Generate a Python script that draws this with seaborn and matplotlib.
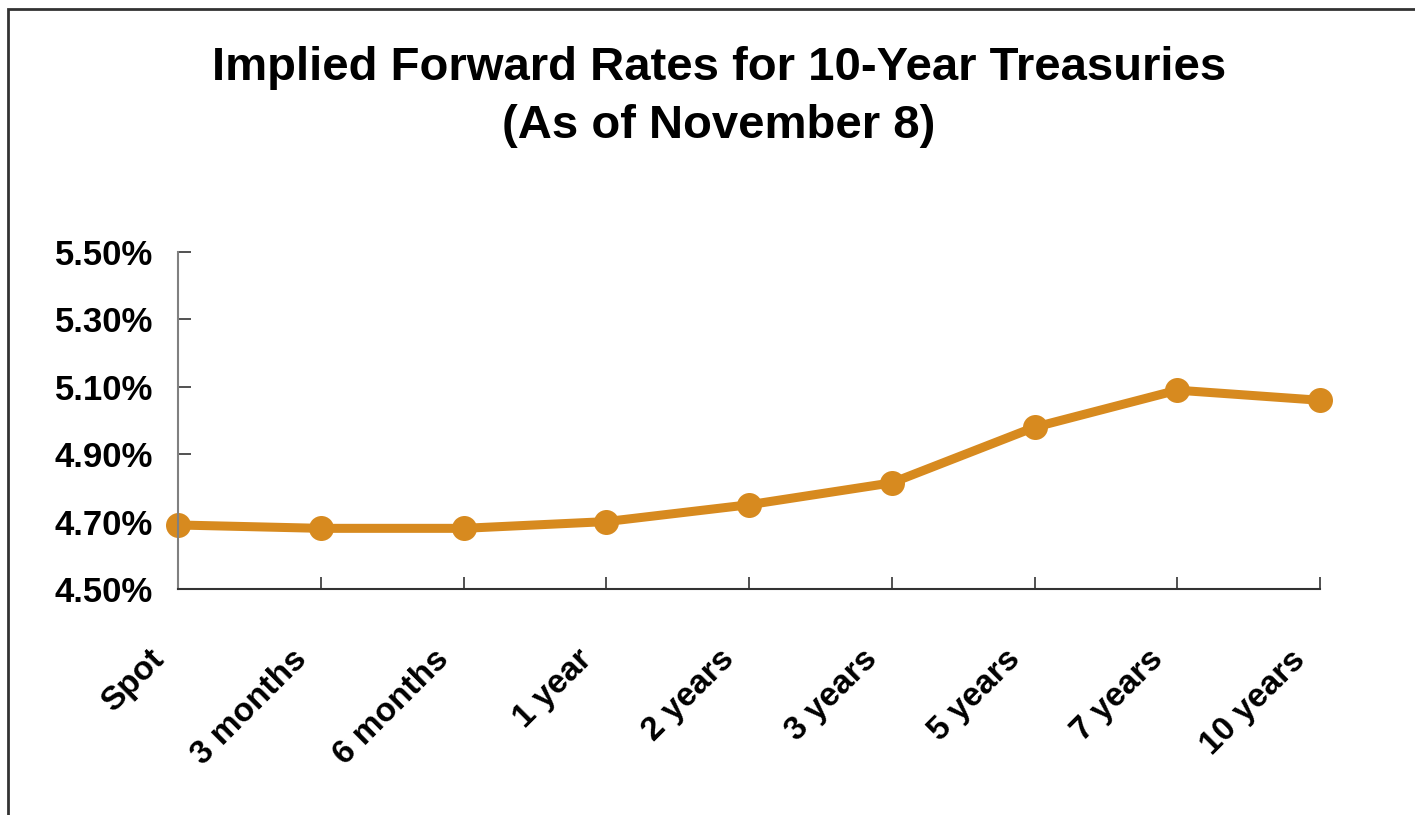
import numpy as np
import pandas as pd
import seaborn as sns
import matplotlib.pyplot as plt
from matplotlib.patches import Rectangle
from matplotlib.transforms import ScaledTranslation

sns.set_style("white")
plt.rcParams['font.family'] = ['Liberation Sans', 'DejaVu Sans']
plt.rcParams['text.color'] = 'black'
plt.rcParams['xtick.color'] = 'black'
plt.rcParams['ytick.color'] = 'black'

terms = ["Spot", "3 months", "6 months", "1 year", "2 years",
         "3 years", "5 years", "7 years", "10 years"]
rates = [4.69, 4.68, 4.68, 4.70, 4.75, 4.815, 4.98, 5.09, 5.06]
y_ticks = [4.50, 4.70, 4.90, 5.10, 5.30, 5.50]

line_color = "#D78A1F"

df = pd.DataFrame({"pos": np.arange(len(terms)), "term": terms, "rate": rates})

fig = plt.figure(figsize=(14.15, 8.15), dpi=100)
ax = fig.add_axes([178 / 1415, 1 - 589 / 815, (1320 - 178) / 1415, (589 - 252) / 815])

sns.lineplot(data=df, x="pos", y="rate", ax=ax, color=line_color, linewidth=6.5,
             marker="o", markersize=18, markeredgewidth=0, clip_on=False)

ax.set_xlim(0, len(terms) - 1)
ax.set_ylim(4.5, 5.5)
ax.set_yticks(y_ticks)
ax.set_yticklabels(["%.2f%%" % v for v in y_ticks], fontsize=25, fontweight="bold")
ax.set_xticks(df["pos"])
ax.set_xticklabels([])
ax.set_xlabel("")
ax.set_ylabel("")

# rotated category labels, placed below-left of each tick
shift = ScaledTranslation(-19 / 100, -66 / 100, fig.dpi_scale_trans)
for i, t in enumerate(terms):
    ax.text(i, 0, t, transform=ax.get_xaxis_transform() + shift,
            rotation=45, rotation_mode="anchor", ha="right", va="center",
            fontsize=24, fontweight="bold")

for side in ["top", "right"]:
    ax.spines[side].set_visible(False)
ax.spines["left"].set_color("#808080")
ax.spines["left"].set_linewidth(1.5)
ax.spines["bottom"].set_color("#333333")
ax.spines["bottom"].set_linewidth(1.5)
ax.tick_params(axis="y", left=True, direction="in", length=9, width=1.2, color="#333333", pad=18)
ax.tick_params(axis="x", bottom=True, direction="in", length=9, width=1.2, color="#333333")

fig.text(0.508, 1 - 97 / 815, "Implied Forward Rates for 10-Year Treasuries\n(As of November 8)",
         ha="center", va="center", fontsize=34, fontweight="bold", linespacing=1.4)

fig.patches.append(Rectangle((8 / 1415, -0.05), 1.1, 1.05 - 9 / 815,
                             transform=fig.transFigure, fill=False,
                             edgecolor="#333333", linewidth=2))

fig.savefig("out.png", dpi=100)
